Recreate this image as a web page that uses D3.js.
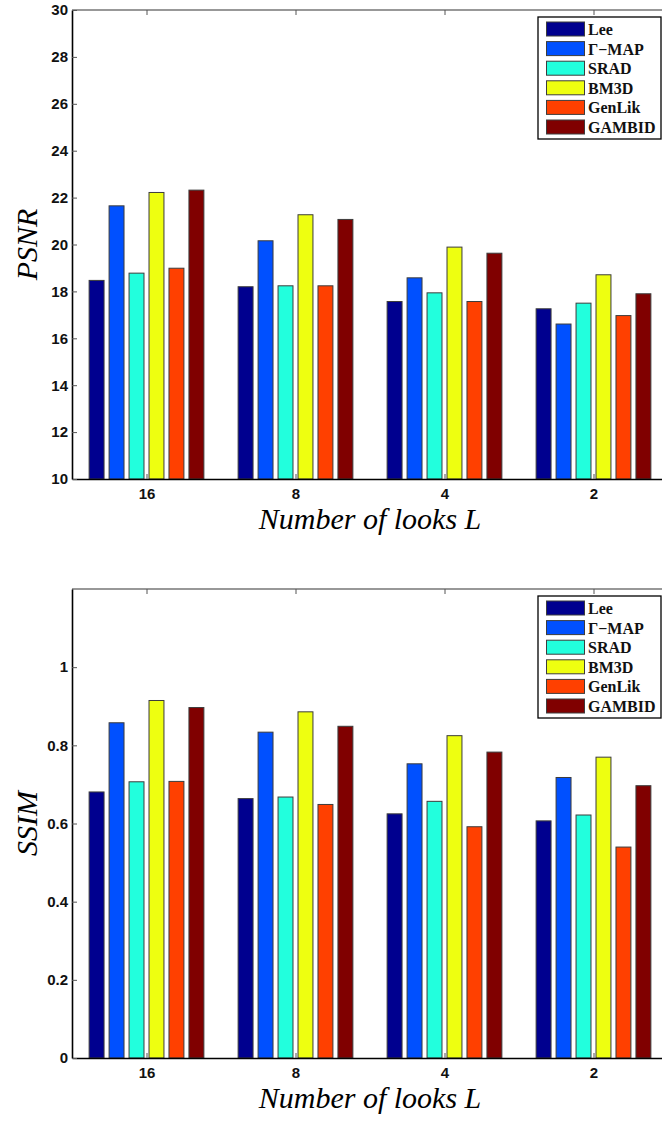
<!DOCTYPE html>
<html>
<head>
<meta charset="utf-8">
<script src="https://cdn.jsdelivr.net/npm/d3@7"></script>
<style>
  html, body { margin: 0; padding: 0; background: #fff; }
  svg { display: block; }
  .tick text { font-family: "Liberation Sans", Arial, sans-serif; font-weight: bold; font-size: 15px; fill: #111; }
  .axis .domain { stroke: #000; stroke-width: 1.6; }
  .axis .tick line { stroke: #555; stroke-width: 1; }
  .frame { stroke: #333; stroke-width: 1.2; }
  .ylab, .xlab { font-family: "Liberation Serif", "Times New Roman", serif; font-style: italic; font-size: 30px; fill: #000; }
  .leg-text { font-family: "Liberation Serif", "Times New Roman", serif; font-weight: bold; font-size: 16px; fill: #111; }
</style>
</head>
<body>
<div id="chart"></div>
<script>
// Number of looks on the x axis, one group of bars per value.
const groups = ["16", "8", "4", "2"];
const methods = ["Lee", "Γ−MAP", "SRAD", "BM3D", "GenLik", "GAMBID"];
const colors = ["#00008f", "#0050ff", "#22ffdd", "#eeff10", "#ff4000", "#800000"];

// PSNR per method, one value per group (16, 8, 4, 2).
const psnrLee    = [18.49, 18.22, 17.59, 17.28];
const psnrGMAP   = [21.67, 20.18, 18.60, 16.63];
const psnrSRAD   = [18.80, 18.26, 17.96, 17.52];
const psnrBM3D   = [22.24, 21.29, 19.91, 18.73];
const psnrGenLik = [19.01, 18.26, 17.59, 16.99];
const psnrGAMBID = [22.34, 21.09, 19.65, 17.92];

// SSIM, same layout.
const ssimLee    = [0.682, 0.665, 0.626, 0.608];
const ssimGMAP   = [0.859, 0.835, 0.754, 0.719];
const ssimSRAD   = [0.708, 0.669, 0.658, 0.623];
const ssimBM3D   = [0.916, 0.887, 0.826, 0.771];
const ssimGenLik = [0.709, 0.650, 0.593, 0.541];
const ssimGAMBID = [0.898, 0.850, 0.784, 0.698];

const psnrTicks = [10, 12, 14, 16, 18, 20, 22, 24, 26, 28, 30];
const ssimTicks = [0, 0.2, 0.4, 0.6, 0.8, 1];

const W = 662, H = 1121;
const svg = d3.select("#chart").append("svg").attr("width", W).attr("height", H);

// Axes box runs a little past the right edge of the page, as in the figure.
const left = 72, right = 668, plotH = 469;
const BAR_STEP = 0.134, BAR_W = 0.107;

function drawPanel(top, series, domain, ticks, fmt, ylabel) {
  const g = svg.append("g");
  const x = d3.scaleLinear([0.5, groups.length + 0.5], [left, right]);
  const y = d3.scaleLinear(domain, [top + plotH, top]);
  const bw = x(1 + BAR_W) - x(1);

  // bars, one colour per method
  series.forEach((vals, mi) => {
    g.append("g").selectAll("rect").data(vals).join("rect")
      .attr("x", (v, gi) => x(gi + 1 + (mi - (methods.length - 1) / 2) * BAR_STEP) - bw / 2 + 0.5)
      .attr("y", (v) => y(v) + 0.5)
      .attr("width", bw - 1)
      .attr("height", (v) => y(domain[0]) - y(v) - 0.5)
      .attr("fill", colors[mi])
      .attr("stroke", "#3c3c3c").attr("stroke-width", 1);
  });

  // frame: top and right edges
  g.append("line").attr("class", "frame").attr("x1", left).attr("x2", right).attr("y1", top).attr("y2", top);
  g.append("line").attr("class", "frame").attr("x1", right).attr("x2", right).attr("y1", top).attr("y2", top + plotH);
  g.append("g").attr("class", "axis").attr("transform", `translate(0,${top})`)
    .call(d3.axisTop(x).tickValues(d3.range(1, groups.length + 1)).tickFormat("").tickSizeInner(-5).tickSizeOuter(0))
    .call((a) => a.select(".domain").remove());

  g.append("g").attr("class", "axis").attr("transform", `translate(0,${top + plotH})`)
    .call(d3.axisBottom(x).tickValues(d3.range(1, groups.length + 1))
      .tickFormat((d) => groups[d - 1]).tickSizeInner(-5).tickSizeOuter(0).tickPadding(9));
  g.append("g").attr("class", "axis").attr("transform", `translate(${left},0)`)
    .call(d3.axisLeft(y).tickValues(ticks).tickFormat(fmt).tickSizeInner(-5).tickSizeOuter(0).tickPadding(4));

  g.append("text").attr("class", "ylab").attr("text-anchor", "middle")
    .attr("transform", `translate(37,${top + plotH / 2}) rotate(-90)`).text(ylabel);
  g.append("text").attr("class", "xlab").attr("text-anchor", "middle")
    .attr("x", (left + right) / 2).attr("y", top + plotH + 50).text("Number of looks L");

  // legend, top right inside the axes
  const lx = 538, ly = top + 7, rowH = 19.6;
  const leg = g.append("g");
  leg.append("rect").attr("x", lx).attr("y", ly).attr("width", 123).attr("height", 122)
    .attr("fill", "#fff").attr("stroke", "#000").attr("stroke-width", 1.3);
  methods.forEach((name, i) => {
    const cy = ly + 12 + i * rowH;
    leg.append("rect").attr("x", lx + 8.5).attr("y", cy - 7).attr("width", 38).attr("height", 14)
      .attr("fill", colors[i]).attr("stroke", "#3c3c3c").attr("stroke-width", 1);
    leg.append("text").attr("class", "leg-text").attr("x", lx + 50).attr("y", cy + 6).text(name);
  });
}

drawPanel(10, [psnrLee, psnrGMAP, psnrSRAD, psnrBM3D, psnrGenLik, psnrGAMBID],
  [10, 30], psnrTicks, d3.format("d"), "PSNR");
drawPanel(589, [ssimLee, ssimGMAP, ssimSRAD, ssimBM3D, ssimGenLik, ssimGAMBID],
  [0, 1.2], ssimTicks, (d) => String(+d.toFixed(1)), "SSIM");
</script>
</body>
</html>
